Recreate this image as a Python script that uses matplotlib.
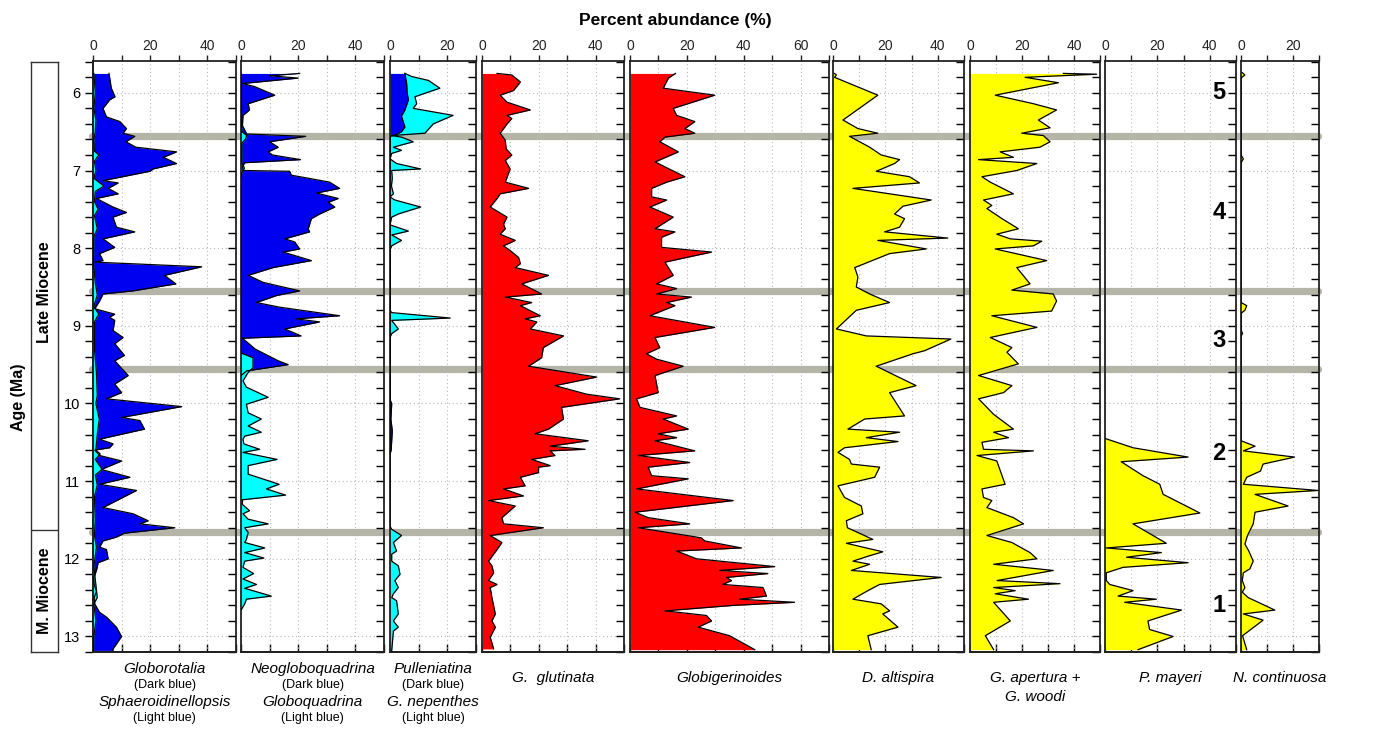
import matplotlib
matplotlib.use("Agg")
import matplotlib.pyplot as plt
from matplotlib.lines import Line2D
from matplotlib.ticker import MultipleLocator

plt.rcParams['font.family'] = ['Liberation Sans', 'DejaVu Sans']

# ---- data (age in Ma, percent abundance) ----
globorotalia_age = [5.75, 5.94, 6.05, 6.09, 6.2, 6.31, 6.37, 6.46, 6.52, 6.56, 6.63, 6.7, 6.76, 6.83,
                    6.91, 6.98, 7.01, 7.13, 7.16, 7.23, 7.3, 7.36, 7.47, 7.54, 7.6, 7.73, 7.79, 7.88,
                    7.99, 8.07, 8.16, 8.18, 8.24, 8.35, 8.46, 8.55, 8.59, 8.68, 8.78, 8.85, 8.89, 8.93,
                    9.06, 9.15, 9.23, 9.38, 9.45, 9.64, 9.75, 9.86, 9.94, 10.04, 10.18, 10.22, 10.33,
                    10.46, 10.52, 10.57, 10.6, 10.67, 10.74, 10.85, 10.95, 11.04, 11.12, 11.34, 11.42,
                    11.51, 11.55, 11.6, 11.67, 11.72, 11.77, 11.85, 11.88, 12.0, 12.05, 12.15, 12.24,
                    12.33, 12.42, 12.5, 12.58, 12.69, 12.75, 12.88, 13.0, 13.16, 13.18]
globorotalia = [5.6, 6.4, 7.7, 5.8, 3.5, 4.7, 9.4, 11.7, 10.5, 14.6, 11.5, 15, 29.2, 24.6,
                29.2, 21, 19.9, 3.5, 8.8, 5.3, 8.8, 1.2, 7, 11.7, 7, 8.2, 14.6, 3.5,
                7.6, 2.3, 3.5, 0.6, 38, 25, 29, 14, 3.5, 2.3, 0.6, 7.6, 5.8, 7.6,
                7, 10.5, 7.6, 11, 7.6, 12.3, 7.6, 10, 4.7, 31, 10, 16.4, 18,
                2.3, 7, 5.8, 0.6, 2.3, 10, 2.9, 12.9, 2.3, 15.2, 3.5, 14,
                19.3, 16.4, 28.6, 11, 8.2, 3.5, 2.3, 4.7, 5.3, 1.8, 1.2, 0.3,
                0.4, 1.2, 0.4, 0.6, 2.3, 4.7, 8.2, 10, 7, 7]

sphaeroidinellopsis_age = [5.75, 6.0, 6.2, 6.35, 6.5, 6.6, 6.75, 6.8, 6.88, 7.0, 7.1, 7.2, 7.27, 7.4,
                           7.5, 7.58, 7.75, 7.85, 8.2, 8.45, 8.6, 8.75, 8.85, 8.95, 9.3, 9.6, 9.9,
                           10.0, 10.2, 10.4, 10.6, 10.65, 10.72, 10.85, 10.92, 11.05, 11.2, 11.5,
                           11.7, 11.85, 12.1, 12.5, 12.58, 12.8, 13.0, 13.18]
sphaeroidinellopsis = [0.3, 0.8, 0.3, 1.0, 0.8, 0.3, 0.5, 2.0, 0.5, 1.0, 0.3, 3.8, 0.8, 0.5,
                       1.8, 0.5, 1.5, 0.3, 0.2, 0.8, 1.5, 0.3, 2.0, 0.5, 0.5, 1.2, 1.5,
                       1.0, 2.2, 1.5, 1.0, 2.5, 0.8, 3.2, 0.8, 1.5, 0.5, 0.8,
                       0.5, 1.2, 0.3, 1.5, 0.3, 1.0, 0.3, 0.2]

neoglobo_age = [5.75, 5.78, 5.81, 5.88, 5.92, 6.03, 6.14, 6.22, 6.29, 6.42, 6.48, 6.53, 6.56, 6.63,
                6.7, 6.76, 6.8, 6.86, 6.9, 6.95, 7.0, 7.01, 7.06, 7.15, 7.23, 7.29, 7.36, 7.41,
                7.47, 7.56, 7.62, 7.75, 7.79, 7.88, 7.92, 8.01, 8.05, 8.16, 8.25, 8.35, 8.44,
                8.55, 8.61, 8.7, 8.76, 8.87, 8.91, 8.95, 9.04, 9.13, 9.16, 9.3, 9.45, 9.5, 9.58, 9.64]
neoglobo = [20.5, 10, 20, 0.5, 4.8, 11.8, 2.5, 3.0, 0.7, 0.5, 1.3, 2.0, 22.6, 10,
            13, 9.5, 11, 20.8, 1.3, 0.5, 0.7, 17, 17.6, 31, 34.5, 26.4, 34, 30.5,
            32.8, 27.5, 24.6, 23.5, 24, 15.3, 18.8, 20.5, 14.7, 24.6, 11.2, 2.5, 7.7,
            20.5, 12.4, 5.4, 13.5, 34.5, 19.4, 27.5, 15.3, 21, 0.5, 5, 13, 16.5, 2, 0]

globoquad_age = [5.75, 6.5, 6.55, 6.6, 6.65, 6.9, 6.97, 7.03, 7.1, 9.35, 9.41, 9.54, 9.6, 9.71, 9.79,
                 9.92, 10.01, 10.12, 10.2, 10.29, 10.37, 10.42, 10.46, 10.52, 10.59, 10.63, 10.72,
                 10.8, 10.91, 11.04, 11.1, 11.18, 11.24, 11.3, 11.38, 11.42, 11.49, 11.55, 11.6,
                 11.66, 11.75, 11.79, 11.86, 11.92, 11.99, 12.03, 12.11, 12.19, 12.26, 12.33,
                 12.38, 12.48, 12.52, 12.58, 12.63, 12.66]
globoquad = [0, 0.3, 2.0, 1.5, 0.3, 0.3, 1.2, 0.3, 0, 0, 4.2, 4.2, 2.5, 0.7, 1.9,
             9.5, 1.9, 2.5, 7.1, 2.5, 7.1, 1.3, 0.7, 1.0, 6.5, 0.7, 12.6,
             2.5, 2.5, 13.3, 8.9, 15.6, 0.5, 0.5, 3.0, 0.7, 2.5, 9.5, 1.3,
             2.5, 1.9, 1.3, 8.3, 1.3, 8.0, 1.3, 0.7, 4.4, 0.7, 5.4,
             1.3, 10.6, 1.9, 1.3, 0.5, 0]

pulleniatina_age = [5.75, 5.88, 6.0, 6.09, 6.22, 6.3, 6.44, 6.5, 6.54, 6.56,
                    9.95, 10.0, 10.2, 10.35, 10.6, 10.65]
pulleniatina = [5.2, 5.8, 6.0, 6.4, 5.2, 4.0, 5.2, 4.0, 2.0, 0,
                0, 0.6, 0.3, 0.8, 0.4, 0]

nepenthes_age = [5.75, 5.79, 5.84, 5.94, 6.05, 6.14, 6.2, 6.29, 6.4, 6.52, 6.55, 6.57, 6.63, 6.7,
                 6.74, 6.78, 6.85, 6.91, 6.98, 7.0, 7.1, 7.2, 7.3, 7.34, 7.38, 7.47, 7.56, 7.6,
                 7.7, 7.78, 7.83, 7.9, 7.97, 8.02, 8.8, 8.83, 8.9, 8.93, 9.04, 9.1, 9.15, 11.58,
                 11.62, 11.7, 11.79, 11.9, 11.94, 12.03, 12.09, 12.2, 12.28, 12.37, 12.45, 12.5,
                 12.54, 12.71, 12.8, 12.88, 12.93, 13.18]
nepenthes = [5.2, 7.6, 13.4, 17.4, 8.7, 9.3, 8.1, 22, 15.1, 12.2, 0.5, 4.0, 8.1, 1.2,
             4.0, 0.6, 0, 2.3, 10.7, 0.6, 0.8, 0.5, 1.2, 0, 1.7, 10.7, 2.9, 0.6,
             0, 6.4, 0.6, 4.0, 0.6, 0, 0, 0.6, 21, 0.6, 2.9, 0.6, 0, 0,
             0.6, 4.0, 1.2, 2.3, 0.6, 0.6, 2.9, 3.5, 1.7, 2.9, 1.2, 0.6,
             2.3, 2.9, 1.2, 2.9, 1.2, 0.6]

glutinata_age = [5.75, 5.77, 5.86, 5.97, 6.03, 6.12, 6.22, 6.29, 6.33, 6.4, 6.52, 6.61, 6.72, 6.8,
                 6.87, 6.98, 7.15, 7.23, 7.3, 7.36, 7.47, 7.6, 7.69, 7.75, 7.82, 7.9, 7.97, 8.03,
                 8.12, 8.2, 8.25, 8.35, 8.46, 8.59, 8.63, 8.7, 8.74, 8.87, 8.91, 8.95, 9.04, 9.13,
                 9.28, 9.41, 9.52, 9.66, 9.77, 9.88, 9.94, 10.05, 10.2, 10.33, 10.39, 10.48, 10.55,
                 10.59, 10.61, 10.67, 10.72, 10.8, 10.82, 10.89, 10.95, 11.06, 11.1, 11.19, 11.25,
                 11.32, 11.47, 11.55, 11.6, 11.7, 11.79, 11.88, 12.03, 12.09, 12.18, 12.28, 12.33,
                 12.37, 12.5, 12.71, 12.8, 12.88, 13.01, 13.16]
glutinata = [5.3, 10.5, 13.5, 11.1, 6.4, 8.8, 17, 8.8, 10.5, 8.8, 6.4, 8.2, 8.5, 10.5,
             8.2, 9.9, 8.2, 16.4, 6.4, 5.3, 2.9, 8.8, 7.6, 8.2, 6.4, 11.7, 7.6, 9.9,
             12.9, 13.5, 11.7, 23.4, 14, 21, 8.2, 17.5, 13.5, 20.5, 15.2, 19.3, 17, 28.7,
             21.6, 21, 16.4, 40.4, 25.7, 36.8, 48.5, 28, 28.7, 23.4, 18.7, 37.4, 24,
             36.3, 24, 25.7, 17.5, 24, 19.9, 19.9, 13.5, 15.2, 7.6, 14.6, 2.3,
             11.7, 7, 7.6, 21.6, 2.9, 7, 5.3, 2.3, 3.5, 4.1, 2.3, 5.3,
             2.9, 3.5, 4.7, 3.5, 4.7, 2.9, 4.1]

globigerinoides_age = [5.75, 5.81, 5.94, 6.03, 6.2, 6.29, 6.37, 6.46, 6.52, 6.57, 6.63, 6.76, 6.89,
                       7.08, 7.15, 7.23, 7.34, 7.38, 7.47, 7.6, 7.75, 7.79, 7.86, 7.99, 8.05, 8.18,
                       8.35, 8.46, 8.52, 8.59, 8.63, 8.7, 8.74, 8.87, 9.02, 9.15, 9.28, 9.36, 9.43,
                       9.52, 9.64, 9.86, 9.94, 10.05, 10.16, 10.2, 10.33, 10.39, 10.44, 10.48, 10.61,
                       10.67, 10.76, 10.82, 10.93, 10.97, 11.1, 11.25, 11.4, 11.47, 11.55, 11.6,
                       11.73, 11.77, 11.86, 11.9, 12.0, 12.1, 12.15, 12.19, 12.24, 12.28, 12.33,
                       12.37, 12.48, 12.52, 12.56, 12.6, 12.67, 12.73, 12.8, 12.88, 12.99, 13.17]
globigerinoides = [16, 13.5, 11.7, 29.8, 15.2, 16.4, 22.8, 19.3, 22.8, 12.3, 10.5, 17, 8.8,
                   19.3, 12.9, 7.6, 7.6, 12.9, 7, 15.2, 8.8, 15.8, 11.1, 11.1, 28.7, 12.3,
                   15.2, 9.4, 16.4, 9.4, 21.6, 12.9, 15.8, 7, 29.8, 8.8, 10.5, 5.8, 9.4,
                   18.7, 8.8, 9.9, 2.3, 3.5, 16.4, 11.7, 20.5, 9.9, 16.4, 8.8, 22.8,
                   2.9, 21, 6.4, 7.6, 20.5, 2.3, 36.3, 1.8, 6.4, 21, 2.9,
                   25.1, 26.3, 39.2, 16.4, 23.4, 50.9, 31.6, 48.5, 33.9, 35.7, 32.7,
                   46.8, 48, 38.6, 57.9, 36.3, 12.3, 26.9, 28.7, 24, 35, 43.9]

altispira_age = [5.75, 5.77, 5.8, 6.03, 6.35, 6.46, 6.52, 6.56, 6.7, 6.8, 6.86, 6.91, 7.01, 7.08,
                 7.16, 7.23, 7.38, 7.46, 7.56, 7.62, 7.73, 7.79, 7.87, 7.9, 8.01, 8.07, 8.25, 8.37,
                 8.5, 8.59, 8.7, 8.8, 9.04, 9.13, 9.17, 9.32, 9.36, 9.52, 9.77, 9.86, 10.16, 10.2,
                 10.33, 10.37, 10.44, 10.49, 10.57, 10.63, 10.72, 10.78, 10.82, 10.95, 11.06,
                 11.21, 11.32, 11.42, 11.51, 11.6, 11.75, 11.8, 11.91, 11.96, 12.03, 12.07, 12.15,
                 12.24, 12.33, 12.41, 12.52, 12.58, 12.67, 12.71, 12.88, 12.99, 13.17]
altispira = [0.6, 1.3, 0.6, 17.1, 3.8, 9.5, 17.1, 6.3, 14, 18.4, 25.4, 23.5, 16.5, 29.2,
             33, 7.6, 37.5, 26.7, 23.5, 27.3, 25.4, 19.7, 43.8, 17.1, 35.6, 21.6, 8.3, 9.5,
             8.9, 14, 21.6, 8.9, 1.3, 12.7, 45, 35, 30.5, 16.5, 31.7, 21.6, 27.3, 12.1,
             5.7, 25.4, 12.7, 24.8, 4.4, 1.9, 6.3, 7, 17.8, 15.9, 1.9,
             4.4, 10.8, 11.4, 5.1, 5.5, 15.2, 5.1, 19, 14, 7.6, 14, 7,
             41.3, 17.8, 13.3, 7.6, 18.4, 21.6, 19, 24.8, 13.3, 14.6]

apertura_age = [5.75, 5.76, 5.8, 5.87, 6.03, 6.14, 6.22, 6.35, 6.45, 6.52, 6.55, 6.63, 6.7, 6.76,
                6.83, 6.86, 6.91, 7.0, 7.08, 7.15, 7.3, 7.38, 7.45, 7.49, 7.62, 7.75, 7.82, 7.88,
                7.91, 7.97, 8.01, 8.16, 8.25, 8.46, 8.54, 8.59, 8.68, 8.81, 8.87, 9.02, 9.15, 9.28,
                9.34, 9.49, 9.64, 9.77, 9.86, 9.94, 10.14, 10.33, 10.37, 10.44, 10.5, 10.59, 10.61,
                10.67, 10.74, 11.04, 11.1, 11.21, 11.25, 11.34, 11.47, 11.55, 11.7, 11.79, 11.92,
                12.0, 12.07, 12.15, 12.28, 12.32, 12.37, 12.41, 12.45, 12.52, 12.56, 12.8, 12.99,
                13.17]
apertura = [35.9, 48.7, 21.2, 34, 9.7, 24.4, 33.3, 26.3, 30.8, 19.9, 28.2, 30.8, 26.9, 11.6,
            16.7, 3.3, 25.7, 18, 4.6, 7.8, 16.7, 5.2, 8.4, 6.5, 12.3, 18.6, 10.3, 15.5,
            27.6, 24.4, 9.7, 29.5, 18, 23.1, 16.1, 32, 33.3, 31.4, 8.4, 25.7, 7.8, 16.1,
            14.2, 18.6, 3.3, 16.1, 12.9, 3.3, 9.1, 16.7, 9.1, 14.8, 4.6, 5.2, 24.4,
            2.7, 10.3, 13.5, 4.6, 5.2, 8.4, 6.5, 16.7, 20.6, 6.5, 16.1, 23.1,
            25.7, 9.1, 32, 10.4, 34.6, 9.1, 17.4, 9.7, 22.5, 9.1, 15.5, 5.9,
            9.1]

mayeri_age = [10.45, 10.57, 10.69, 10.75, 10.93, 11.04, 11.17, 11.41, 11.55, 11.8, 11.86, 11.92,
              11.98, 12.05, 12.11, 12.18, 12.28, 12.33, 12.41, 12.48, 12.52, 12.56, 12.66, 12.8,
              12.91, 13.0, 13.17]
mayeri = [0, 10.7, 31.7, 6.2, 14.5, 20.9, 22.2, 36.2, 10.7, 23.4, 0.5, 21.5,
          8.2, 31.7, 6.9, 0.5, 0.5, 1.8, 10.7, 5, 19.6, 7.5, 29.2, 16.4,
          17, 26, 12.6]

continuosa_age = [5.74, 5.77, 5.8, 5.83, 6.8, 6.85, 6.9, 8.7, 8.74, 8.8, 8.84, 9.05, 9.1, 9.13,
                  10.48, 10.55, 10.61, 10.69, 10.78, 10.87, 10.95, 11.04, 11.12, 11.17, 11.32,
                  11.4, 11.55, 11.7, 11.81, 11.9, 12.03, 12.13, 12.18, 12.28, 12.37, 12.43, 12.5,
                  12.66, 12.71, 12.79, 12.99, 13.17]
continuosa = [0.5, 1.5, 0.3, 0, 0, 0.9, 0, 0, 2.2, 1.5, 0, 0, 0.6, 0,
              0, 5.4, 0.9, 20.6, 8.5, 7.5, 2.2, 0.9, 29.6, 5.4, 18.1,
              5.4, 4.7, 2.5, 1.5, 3.0, 4.7, 3.4, 0.9, 0.5, 1.5, 0.5, 2.8,
              13, 0.9, 8.5, 0.6, 2.2]

band_ages = [6.55, 8.55, 9.55, 11.65]
zone_labels = ['5', '4', '3', '2', '1']
zone_ages = [6.0, 7.54, 9.19, 10.64, 12.6]
epoch_boundary = 11.62

# ---- layout (pixel boxes from the reference) ----
W, H = 1392, 731
TOP, BOT = 61, 652
AGE_MIN, AGE_MAX = 5.59, 13.2

DARK = '#0000f0'
CYAN = '#00ffff'
RED = '#ff0000'
YEL = '#ffff00'
BAND = '#b4b4a7'

panels = [
    # x0, x1, xmax, layers [(age, values, colour)], labels [(text, y, style)]
    (93, 236, 50, [(globorotalia_age, globorotalia, DARK), (sphaeroidinellopsis_age, sphaeroidinellopsis, CYAN)],
     [('Globorotalia', 669, 'sp'), ('(Dark blue)', 685, 'note'),
      ('Sphaeroidinellopsis', 702, 'sp'), ('(Light blue)', 718, 'note')]),
    (241, 384, 50, [(neoglobo_age, neoglobo, DARK), (globoquad_age, globoquad, CYAN)],
     [('Neogloboquadrina', 669, 'sp'), ('(Dark blue)', 685, 'note'),
      ('Globoquadrina', 702, 'sp'), ('(Light blue)', 718, 'note')]),
    (390, 476, 30, [(nepenthes_age, nepenthes, CYAN), (pulleniatina_age, pulleniatina, DARK)],
     [('Pulleniatina', 669, 'sp'), ('(Dark blue)', 685, 'note'),
      ('G. nepenthes', 702, 'sp'), ('(Light blue)', 718, 'note')]),
    (482, 624, 50, [(glutinata_age, glutinata, RED)], [('G.  glutinata', 678, 'sp')]),
    (630, 829, 70, [(globigerinoides_age, globigerinoides, RED)], [('Globigerinoides', 678, 'sp')]),
    (833, 964, 50, [(altispira_age, altispira, YEL)], [('D. altispira', 678, 'sp')]),
    (970, 1100, 50, [(apertura_age, apertura, YEL)], [('G. apertura +', 678, 'sp'), ('G. woodi', 697, 'sp')]),
    (1105, 1236, 50, [(mayeri_age, mayeri, YEL)], [('P. mayeri', 678, 'sp')]),
    (1241, 1319, 30, [(continuosa_age, continuosa, YEL)], [('N. continuosa', 678, 'sp')]),
]


def rect(x0, x1, y0=TOP, y1=BOT):
    return [x0 / W, 1 - y1 / H, (x1 - x0) / W, (y1 - y0) / H]


def ftxt(x, y, s, **kw):
    fig.text(x / W, 1 - y / H, s, ha='center', va='center', **kw)


fig = plt.figure(figsize=(W / 100, H / 100), dpi=100)
axes = []
for i, (x0, x1, xmax, layers, labels) in enumerate(panels):
    ax = fig.add_axes(rect(x0, x1))
    ax.patch.set_facecolor('none')  # lets the grey zone bands show behind the curves
    ax.set_xlim(0, xmax)
    ax.set_ylim(AGE_MAX, AGE_MIN)
    for age, vals, col in layers:
        ax.fill_betweenx(age, 0, vals, color=col, lw=0, zorder=2)
        ax.plot(vals, age, color='black', lw=0.9, zorder=3)

    ax.set_xticks(range(0, xmax + 1, 20))
    ax.xaxis.set_minor_locator(MultipleLocator(10))
    ax.yaxis.set_major_locator(MultipleLocator(1))
    ax.yaxis.set_minor_locator(MultipleLocator(0.2))
    ax.grid(True, which='both', axis='x', ls=(0, (1, 2.5)), color='#b8b8b8', lw=0.8, zorder=0)
    ax.grid(True, which='major', axis='y', ls=(0, (1, 2.5)), color='#b8b8b8', lw=0.8, zorder=0)
    ax.set_axisbelow(True)

    # top: labelled, ticks out; right: ticks in
    ax.tick_params(axis='x', which='both', top=True, bottom=False, labeltop=True, labelbottom=False,
                   direction='out', length=4, width=1, labelsize=10, pad=2, colors='#222222')
    ax.tick_params(axis='y', which='both', left=False, right=True, labelleft=False, labelright=False,
                   direction='in', length=6, width=1)
    for sp in ax.spines.values():
        sp.set_linewidth(1.3)
        sp.set_color('#222222')

    # bottom ticks pointing inward
    sec = ax.secondary_xaxis('bottom')
    sec.set_xticks(range(0, xmax + 1, 20))
    sec.xaxis.set_minor_locator(MultipleLocator(10))
    sec.tick_params(axis='x', which='both', direction='in', length=6, width=1, labelbottom=False)
    sec.spines['bottom'].set_linewidth(1.3)

    if i == 0:
        sy = ax.secondary_yaxis('left')
        sy.yaxis.set_major_locator(MultipleLocator(1))
        sy.yaxis.set_minor_locator(MultipleLocator(0.2))
        sy.tick_params(axis='y', which='both', direction='out', length=6, width=1, labelsize=10.5, pad=3)
        sy.set_yticks(range(6, 14))
        sy.spines['left'].set_linewidth(1.3)

    cx = (x0 + x1) / 2
    for text, y, style in labels:
        if style == 'sp':
            ftxt(cx, y, text, fontsize=11, style='italic')
        else:
            ftxt(cx, y, text, fontsize=9)
    axes.append(ax)

# zone numbers in the P. mayeri panel
for lab, age in zip(zone_labels, zone_ages):
    axes[7].text(43.5, age, lab, fontsize=17, fontweight='bold', ha='center', va='center', zorder=5)

# epoch column
ep = fig.add_axes(rect(31, 58, 62, BOT))
ep.set_ylim(AGE_MAX, AGE_MIN)
ep.set_xlim(0, 1)
ep.set_xticks([])
ep.set_yticks([])
ep.axhline(epoch_boundary, color='#333333', lw=1)
for sp in ep.spines.values():
    sp.set_linewidth(1)
    sp.set_color('#333333')
ep.text(0.5, (AGE_MIN + epoch_boundary) / 2 - 0.05, 'Late Miocene', rotation=90, ha='center', va='center',
        fontsize=11.5, fontweight='bold')
ep.text(0.5, (epoch_boundary + AGE_MAX) / 2, 'M. Miocene', rotation=90, ha='center', va='center',
        fontsize=11.5, fontweight='bold')

# grey zone boundaries across all panels, behind the (transparent) axes
for a in band_ages:
    ypx = TOP + (a - AGE_MIN) / (AGE_MAX - AGE_MIN) * (BOT - TOP)
    fig.add_artist(Line2D([92 / W, 1318 / W], [1 - ypx / H] * 2, color=BAND, lw=5.2,
                          solid_capstyle='round', zorder=-1))

ftxt(18, 397, 'Age (Ma)', rotation=90, fontsize=11.5, fontweight='bold')
ftxt(675, 20, 'Percent abundance (%)', fontsize=12.5, fontweight='bold')

fig.savefig('out.png', dpi=100)
